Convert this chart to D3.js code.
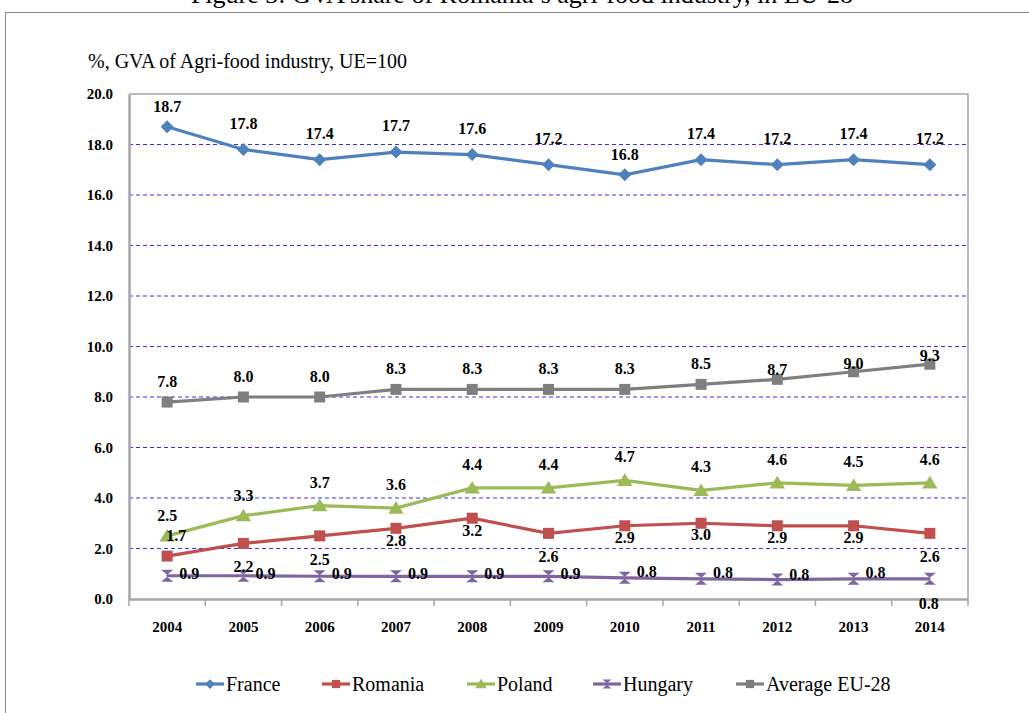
<!DOCTYPE html>
<html>
<head>
<meta charset="utf-8">
<script src="https://cdn.jsdelivr.net/npm/d3@7"></script>
<style>
  body { margin: 0; background: #fff; }
  svg text { font-family: "Liberation Serif", "Times New Roman", serif; }
</style>
</head>
<body>
<div id="chart"></div>
<script>
const years = ['2004', '2005', '2006', '2007', '2008', '2009', '2010', '2011', '2012', '2013', '2014'];
const france = [18.7, 17.8, 17.4, 17.7, 17.6, 17.2, 16.8, 17.4, 17.2, 17.4, 17.2];
const romania = [1.7, 2.2, 2.5, 2.8, 3.2, 2.6, 2.9, 3.0, 2.9, 2.9, 2.6];
const poland = [2.5, 3.3, 3.7, 3.6, 4.4, 4.4, 4.7, 4.3, 4.6, 4.5, 4.6];
const hungary = [0.92, 0.92, 0.9, 0.9, 0.9, 0.9, 0.84, 0.8, 0.77, 0.8, 0.8];
const averageEU = [7.8, 8.0, 8.0, 8.3, 8.3, 8.3, 8.3, 8.5, 8.7, 9.0, 9.3];
const yTicks = [0, 2, 4, 6, 8, 10, 12, 14, 16, 18, 20];

const series = [
    { name: 'France', values: france, color: '#4F81BD', marker: 'diamond' },
    { name: 'Romania', values: romania, color: '#C0504D', marker: 'square' },
    { name: 'Poland', values: poland, color: '#9BBB59', marker: 'triangle' },
    { name: 'Hungary', values: hungary, color: '#8064A2', marker: 'hourglass' },
    { name: 'Average EU-28', values: averageEU, color: '#7F7F7F', marker: 'square' }
];

// default label placement per series: [dx, dy, anchor]
const labelPlace = {
    'France': [0, -21, 'middle'],
    'Romania': [0, 29, 'middle'],
    'Poland': [0, -18, 'middle'],
    'Hungary': [12, 3, 'start'],
    'Average EU-28': [0, -15, 'middle']
};

// a few labels were nudged by hand in the original
const labelNudge = {
    'France-0': [0, 6], 'France-6': [0, 6],
    'Poland-0': [0, 3], 'Poland-1': [0, 3],
    'Romania-0': [9, -44], 'Romania-3': [0, -11], 'Romania-4': [0, -11], 'Romania-6': [0, -12],
    'Romania-7': [0, -12], 'Romania-8': [0, -12], 'Romania-9': [0, -12],
    'Hungary-6': [0, -4], 'Hungary-7': [0, -4], 'Hungary-8': [0, -3], 'Hungary-9': [0, -4],
    'Hungary-10': [-23, 27],
    'Average EU-28-8': [0, 11], 'Average EU-28-9': [0, 12], 'Average EU-28-10': [0, 12]
};

const width = 1029, height = 713;
const margin = { top: 94, right: 61, bottom: 114, left: 129 };
const innerW = width - margin.left - margin.right;
const innerH = height - margin.top - margin.bottom;

const svg = d3.select('#chart').append('svg')
    .attr('width', width)
    .attr('height', height);

// outer frame and the title, cut off at the top as in the source
svg.append('rect')
    .attr('x', 5.5).attr('y', 12.5)
    .attr('width', 1030).attr('height', 710)
    .attr('fill', 'none').attr('stroke', '#8c8c8c').attr('stroke-width', 1);

svg.append('text')
    .attr('x', 522).attr('y', 3)
    .attr('text-anchor', 'middle')
    .style('font-size', '26px')
    .text('Figure 3: GVA share of Romania\u2019s agri-food industry, in EU-28');

svg.append('text')
    .attr('x', 88).attr('y', 68)
    .style('font-size', '20px')
    .text('%, GVA of Agri-food industry, UE=100');

const g = svg.append('g').attr('transform', `translate(${margin.left},${margin.top})`);

const x = d3.scaleBand().domain(years).range([0, innerW]);
const y = d3.scaleLinear().domain([0, 20]).range([innerH, 0]);
const cx = d => x(d) + x.bandwidth() / 2;

// gridlines
g.append('g')
    .selectAll('line')
    .data(yTicks.filter(t => t > 0 && t < 20))
    .enter().append('line')
    .attr('x1', 0).attr('x2', innerW)
    .attr('y1', d => y(d)).attr('y2', d => y(d))
    .attr('stroke', '#3333ee').attr('stroke-width', 1)
    .attr('stroke-dasharray', '4,3');

// plot frame (top + right)
g.append('path')
    .attr('d', `M0,${y(20)}H${innerW}V${innerH}`)
    .attr('fill', 'none').attr('stroke', '#a6a6a6').attr('stroke-width', 1.5);

// y axis
const yAxis = g.append('g')
    .call(d3.axisLeft(y).tickValues(yTicks).tickSize(0).tickPadding(16).tickFormat(d3.format('.1f')));
yAxis.select('.domain').attr('stroke', '#a6a6a6').attr('stroke-width', 2.5);
yAxis.selectAll('text').style('font-size', '15px').style('font-weight', 'bold').attr('fill', '#000');

// x axis
const xAxis = g.append('g')
    .attr('transform', `translate(0,${innerH})`)
    .call(d3.axisBottom(x).tickSize(0).tickPadding(22));
xAxis.select('.domain').attr('stroke', '#a6a6a6').attr('stroke-width', 2.5);
xAxis.selectAll('text').style('font-size', '15px').style('font-weight', 'bold').attr('fill', '#000');
xAxis.selectAll('.sep')
    .data(d3.range(years.length + 1))
    .enter().append('line')
    .attr('class', 'sep')
    .attr('x1', i => i * x.bandwidth()).attr('x2', i => i * x.bandwidth())
    .attr('y1', 0).attr('y2', 7)
    .attr('stroke', '#a6a6a6').attr('stroke-width', 1.5);

function markerPath(type, s) {
    if (type === 'diamond') return `M0,${-s}L${s},0L0,${s}L${-s},0Z`;
    if (type === 'square') return `M${-s},${-s}H${s}V${s}H${-s}Z`;
    if (type === 'triangle') return `M0,${-s}L${s * 1.1},${s * 0.8}H${-s * 1.1}Z`;
    return `M${-s},${-s}H${s}L${-s * 0.2},0L${s},${s}H${-s}L${s * 0.2},0Z`;
}
const markerSize = { diamond: 6.5, square: 5.5, triangle: 7, hourglass: 6 };

const line = d3.line().x((d, i) => cx(years[i])).y(d => y(d));

series.forEach(s => {
    g.append('path')
        .datum(s.values)
        .attr('d', line)
        .attr('fill', 'none')
        .attr('stroke', s.color)
        .attr('stroke-width', 3.2);

    g.selectAll(null)
        .data(s.values)
        .enter().append('path')
        .attr('transform', (d, i) => `translate(${cx(years[i])},${y(d)})`)
        .attr('d', markerPath(s.marker, markerSize[s.marker]))
        .attr('fill', s.color);
});

series.forEach(s => {
    const p = labelPlace[s.name];
    g.selectAll(null)
        .data(s.values)
        .enter().append('text')
        .attr('x', (d, i) => {
            const n = labelNudge[s.name + '-' + i];
            return cx(years[i]) + p[0] + (n ? n[0] : 0);
        })
        .attr('y', (d, i) => {
            const n = labelNudge[s.name + '-' + i];
            return y(d) + p[1] + (n ? n[1] : 0);
        })
        .attr('text-anchor', p[2])
        .style('font-size', '16px')
        .style('font-weight', 'bold')
        .text(d => d.toFixed(1));
});

// legend
const legendX = [196, 322, 467, 593, 736];
const legend = svg.append('g').attr('transform', 'translate(0,684)');
series.forEach((s, i) => {
    const lg = legend.append('g').attr('transform', `translate(${legendX[i]},0)`);
    lg.append('line')
        .attr('x1', 0).attr('x2', 28).attr('y1', 0).attr('y2', 0)
        .attr('stroke', s.color).attr('stroke-width', 3.2);
    lg.append('path')
        .attr('transform', 'translate(14,0)')
        .attr('d', markerPath(s.marker, markerSize[s.marker] * 0.75))
        .attr('fill', s.color);
    lg.append('text')
        .attr('x', 30).attr('y', 7)
        .style('font-size', '20px')
        .text(s.name);
});
</script>
</body>
</html>
